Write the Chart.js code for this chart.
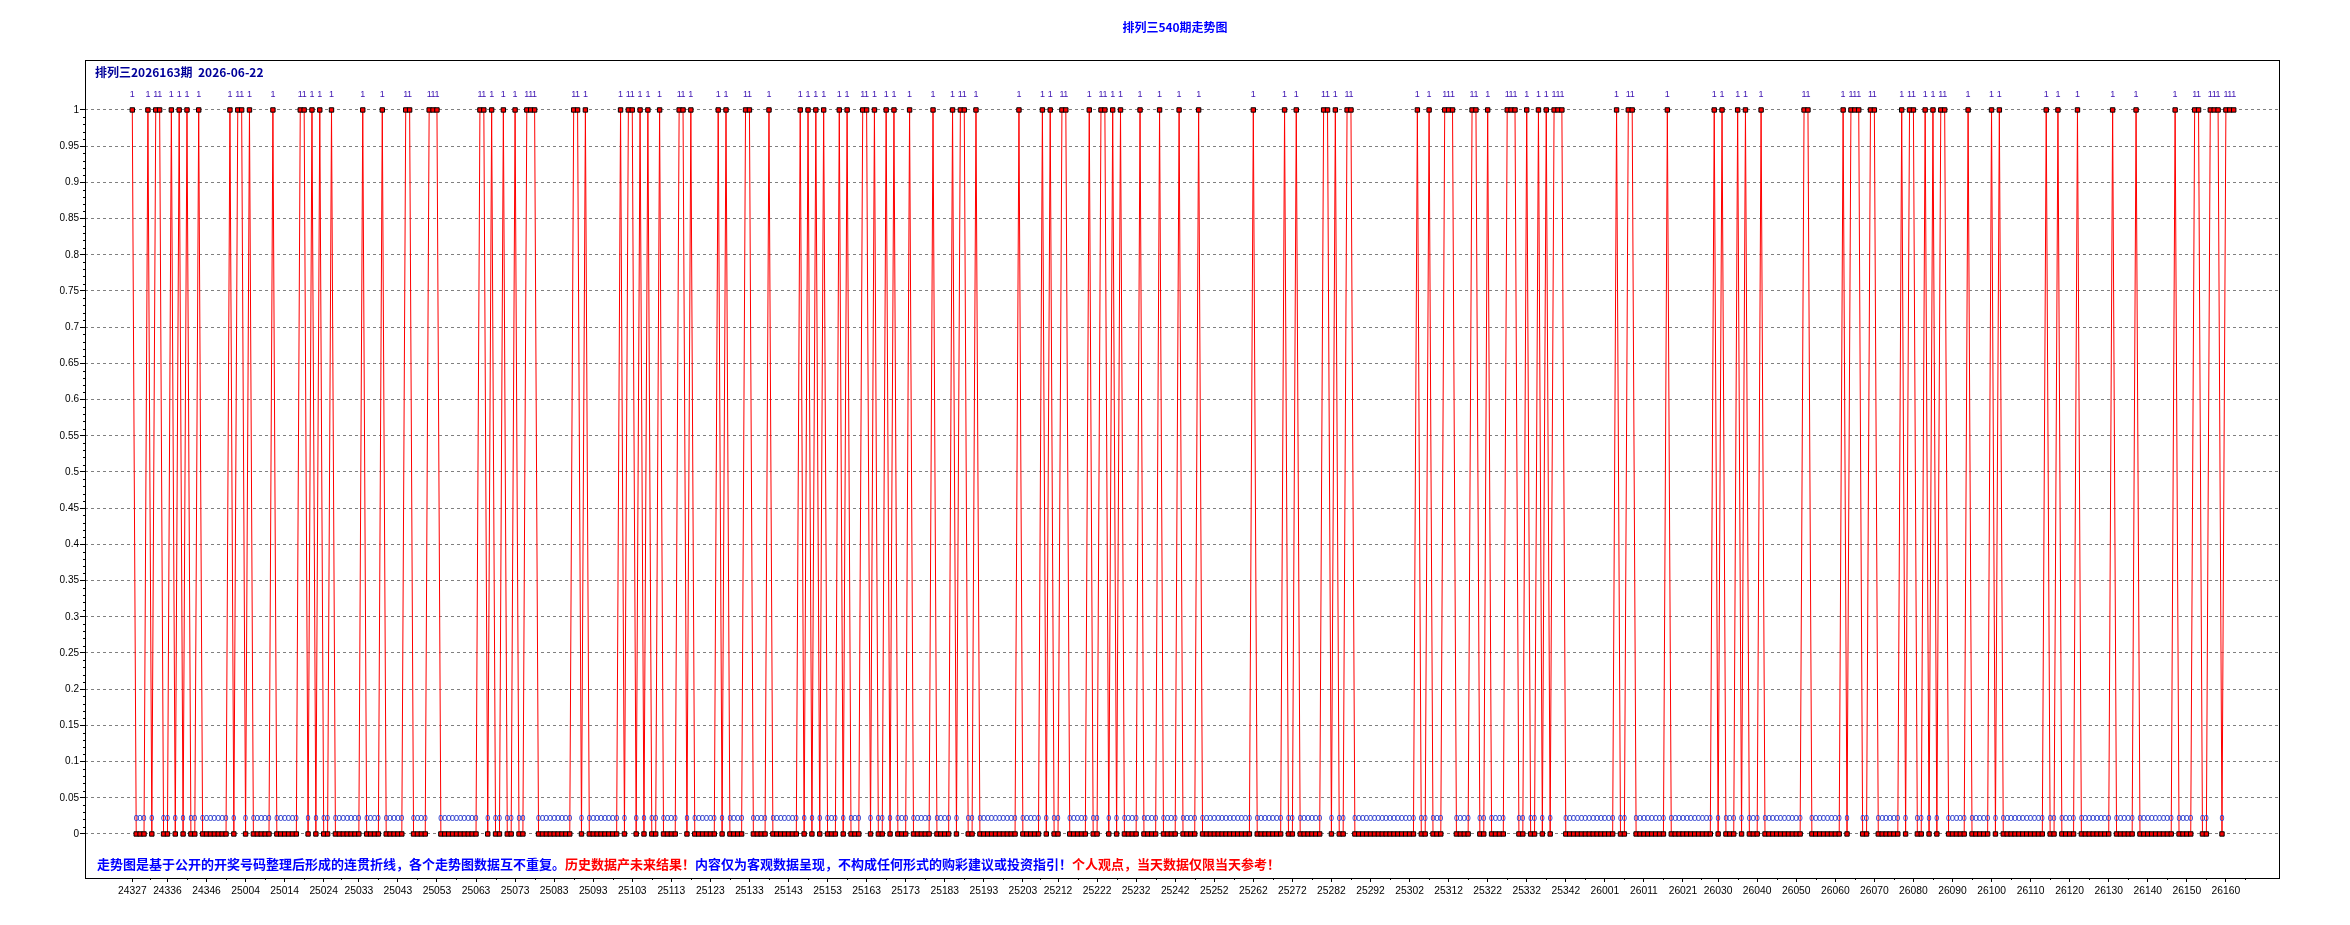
<!DOCTYPE html>
<html><head><meta charset="utf-8">
<script src="https://cdn.jsdelivr.net/npm/chart.js@4.4.1/dist/chart.umd.min.js"></script>
<style>html,body{margin:0;padding:0;background:#fff;}canvas{display:block;}</style>
</head><body>
<div style="width:2350px;height:925px;position:relative"><canvas id="c" width="2350" height="925"></canvas></div>
<script>
// ---- text ----
const chartTitle = '排列三540期走势图';
const headerText = '排列三2026163期  2026-06-22';
const footerParts = [
  ['走势图是基于公开的开奖号码整理后形成的连贯折线，各个走势图数据互不重复。', '#0000ff'],
  ['历史数据产未来结果！', '#ff0000'],
  ['内容仅为客观数据呈现，不构成任何形式的购彩建议或投资指引！', '#0000ff'],
  ['个人观点，当天数据仅限当天参考！', '#ff0000']
];
// ---- categories: period numbers per year [yy, first, last] ----
const periodRanges = [[24, 327, 352], [25, 1, 351], [26, 1, 162]];
// ---- series values (one per period) ----
const draws2024 = [
  1,0,0,0,1,0,1,1,0,0, 1,0,1,0,1,0,0,1,0,0, 0,0,0,0,0,1
];
const draws2025 = [
  0,1,1,0,
  1,0,0,0,0,0,1,0,0,0, 0,0,0,1,1,0,1,0,1,0, 0,1,0,0,0,0,0,0,0,1, 0,0,0,0,1,0,0,0,0,0,
  1,1,0,0,0,0,1,1,1,0, 0,0,0,0,0,0,0,0,0,1, 1,0,1,0,0,1,0,0,1,0, 0,1,1,1,0,0,0,0,0,0,
  0,0,0,1,1,0,1,0,0,0, 0,0,0,0,0,1,0,1,1,0, 1,0,1,0,0,1,0,0,0,0, 1,1,0,1,0,0,0,0,0,0,
  1,0,1,0,0,0,0,1,1,0, 0,0,0,1,0,0,0,0,0,0, 0,1,0,1,0,1,0,1,0,0, 0,1,0,1,0,0,0,1,1,0,
  1,0,0,1,0,1,0,0,0,1, 0,0,0,0,0,1,0,0,0,0, 1,0,1,1,0,0,1,0,0,0, 0,0,0,0,0,0,0,1,0,0,
  0,0,0,1,0,1,0,0,1,1, 0,0,0,0,0,1,0,0,1,1, 0,1,0,1,0,0,0,0,1,0, 0,0,0,1,0,0,0,0,1,0,
  0,0,0,1,0,0,0,0,0,0, 0,0,0,0,0,0,0,1,0,0, 0,0,0,0,0,1,0,0,1,0, 0,0,0,0,0,1,1,0,1,0,
  0,1,1,0,0,0,0,0,0,0, 0,0,0,0,0,0,0,0,0,1, 0,0,1,0,0,0,1,1,1,0, 0,0,0,1,1,0,0,1,0,0,
  0,0,1,1,1,0,0,1,0,0, 1,0,1,0,1,1,1,0,0,0, 0,0,0,0,0,0,0
];
const draws2026 = [
  0,0,0,
  1,0,0,1,1,0,0,0,0,0, 0,0,0,1,0,0,0,0,0,0, 0,0,0,0,0,1,0,1,0,0, 0,1,0,1,0,0,0,1,0,0,
  0,0,0,0,0,0,0,0,1,1, 0,0,0,0,0,0,0,0,1,0, 1,1,1,0,0,1,1,0,0,0, 0,0,0,1,0,1,1,0,0,1,
  0,1,0,1,1,0,0,0,0,0, 1,0,0,0,0,0,1,0,1,0, 0,0,0,0,0,0,0,0,0,0, 1,0,0,1,0,0,0,0,1,0,
  0,0,0,0,0,0,0,1,0,0, 0,0,0,1,0,0,0,0,0,0, 0,0,0,1,0,0,0,0,1,1, 0,0,1,1,1,0,1,1,1
];
// ---- tick labels shown on the x axis ----
const tickPeriods = [
  '24327','24336','24346','25004','25014','25024','25033','25043','25053','25063','25073',
  '25083','25093','25103','25113','25123','25133','25143','25153','25163','25173','25183',
  '25193','25203','25212','25222','25232','25242','25252','25262','25272','25282','25292',
  '25302','25312','25322','25332','25342','26001','26011','26021','26030','26040','26050',
  '26060','26070','26080','26090','26100','26110','26120','26130','26140','26150','26160'
];
const yTickValues = [0,0.05,0.1,0.15,0.2,0.25,0.3,0.35,0.4,0.45,0.5,0.55,0.6,0.65,0.7,0.75,0.8,0.85,0.9,0.95,1];

// ---- build tables ----
const periods = [];
periodRanges.forEach(([yy, a, b]) => { for (let n = a; n <= b; n++) periods.push(String(yy) + String(n).padStart(3, '0')); });
const values = draws2024.concat(draws2025, draws2026);
const points = values.map((v, i) => ({ x: i, y: v }));
const tickIndex = tickPeriods.map(p => periods.indexOf(p)).filter(i => i >= 0);

const FONT = '"Liberation Sans", Arial, sans-serif';
const CJK = '"Noto Sans CJK SC", "Liberation Sans", sans-serif';

const decor = {
  id: 'decor',
  beforeDraw(chart) {
    const c = chart.ctx;
    c.save(); c.fillStyle = '#fff'; c.fillRect(0, 0, chart.width, chart.height); c.restore();
  },
  afterDatasetsDraw(chart) {
    const c = chart.ctx, meta = chart.getDatasetMeta(0);
    c.save();
    c.textAlign = 'center'; c.textBaseline = 'middle';
    c.font = '9px ' + FONT;
    meta.data.forEach((pt, i) => {
      const v = values[i];
      c.fillStyle = v === 1 ? '#3a10b0' : '#2233cc';
      c.fillText(String(v), pt.x, pt.y - 15);
    });
    c.restore();
  },
  afterDraw(chart) {
    const c = chart.ctx, a = chart.chartArea;
    const xs = chart.scales.x, ys = chart.scales.y;
    c.save();
    // frame
    c.strokeStyle = '#000'; c.lineWidth = 1;
    c.strokeRect(a.left + 0.5, a.top + 0.5, a.right - a.left - 1, a.bottom - a.top);
    // minor ticks on y
    c.beginPath();
    for (let k = 0; k <= 100; k++) {
      if (k % 5 === 0) continue;
      const y = Math.round(ys.getPixelForValue(k / 100)) + 0.5;
      c.moveTo(a.left - 2, y); c.lineTo(a.left, y);
    }
    // minor ticks on x, halfway between labelled ticks
    for (let k = 0; k < tickIndex.length; k++) {
      const mid = k + 1 < tickIndex.length ? (tickIndex[k] + tickIndex[k + 1]) / 2 : tickIndex[k] + 5;
      const px = Math.round(xs.getPixelForValue(mid)) + 0.5;
      c.moveTo(px, a.bottom); c.lineTo(px, a.bottom + 2);
    }
    c.stroke();
    // title
    c.fillStyle = '#0000ff'; c.font = 'bold 12px ' + CJK; c.textAlign = 'center'; c.textBaseline = 'middle';
    c.fillText(chartTitle, 1175, 27);
    // header
    c.fillStyle = '#000099'; c.font = 'bold 12px ' + CJK; c.textAlign = 'left';
    c.fillText(headerText, 95, 72);
    // footer
    c.font = 'bold 13px ' + CJK;
    let x = 97;
    footerParts.forEach(([t, col]) => { c.fillStyle = col; c.fillText(t, x, 864); x += c.measureText(t).width; });
    c.restore();
  }
};

new Chart(document.getElementById('c'), {
  type: 'line',
  data: {
    datasets: [{
      data: points,
      borderColor: '#ff0000', borderWidth: 1, tension: 0,
      pointStyle: 'rect', pointRadius: 3.1, pointHoverRadius: 3.1,
      pointBackgroundColor: '#ff0000', pointBorderColor: '#000', pointBorderWidth: 1
    }]
  },
  options: {
    responsive: false, animation: false, devicePixelRatio: 1,
    events: [],
    layout: { padding: { left: 0, right: 70, top: 60, bottom: 0 } },
    plugins: { legend: { display: false }, tooltip: { enabled: false }, title: { display: false } },
    scales: {
      x: {
        type: 'linear', min: -12.11, max: 549.85,
        afterBuildTicks: s => { s.ticks = tickIndex.map(v => ({ value: v })); },
        afterFit: s => { s.height = 47; },
        ticks: { autoSkip: false, maxRotation: 0, padding: 3, color: '#000', font: { family: FONT, size: 10.3 },
          callback: v => periods[v] || '' },
        grid: { drawOnChartArea: false, drawTicks: true, tickLength: 4, tickColor: '#000' },
        border: { display: false }
      },
      y: {
        type: 'linear', min: -0.0608, max: 1.069,
        afterBuildTicks: s => { s.ticks = yTickValues.map(v => ({ value: v })); },
        afterFit: s => { s.width = 85; },
        ticks: { padding: 1, color: '#000', font: { family: FONT, size: 10 },
          callback: v => String(+v.toFixed(2)) },
        grid: { color: '#808080', lineWidth: 1, drawTicks: true, tickLength: 5, tickColor: '#000' },
        border: { display: false, dash: [3, 3] }
      }
    }
  },
  plugins: [decor]
});
</script>
</body></html>
